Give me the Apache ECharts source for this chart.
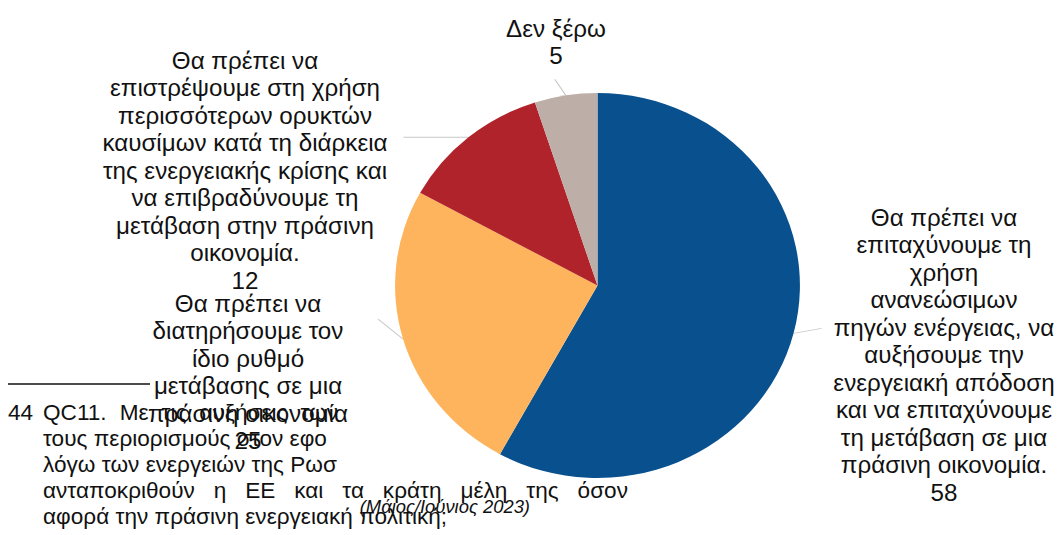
<!DOCTYPE html>
<html>
<head>
<meta charset="utf-8">
<script src="https://cdn.jsdelivr.net/npm/echarts@6/dist/echarts.min.js"></script>
<style>
  html, body { margin: 0; background: #fff; overflow: hidden; }
  /* the source figure is slightly stretched horizontally */
  #chart { width: 1008px; height: 535px; transform: scaleX(1.0516); transform-origin: 0 0; }
</style>
</head>
<body>
<div id="chart"></div>
<script>
const SX = 1.0516

const categories = [
  'Θα πρέπει να\nεπιταχύνουμε τη\nχρήση\nανανεώσιμων\nπηγών ενέργειας, να\nαυξήσουμε την\nενεργειακή απόδοση\nκαι να επιταχύνουμε\nτη μετάβαση σε μια\nπράσινη οικονομία.',
  'Θα πρέπει να\nδιατηρήσουμε τον\nίδιο ρυθμό\nμετάβασης σε μια\nπράσινη οικονομία',
  'Θα πρέπει να\nεπιστρέψουμε στη χρήση\nπερισσότερων ορυκτών\nκαυσίμων κατά τη διάρκεια\nτης ενεργειακής κρίσης και\nνα επιβραδύνουμε τη\nμετάβαση στην πράσινη\nοικονομία.',
  'Δεν ξέρω',
]
const values = [58, 25, 12, 5]
const colors = ['#09508e', '#fdb45d', '#b1232a', '#bdaea7']

const footnoteNumber = '44'
const footnoteLines = [
  'QC11. Με τις αυξήσεις των',
  'τους περιορισμούς στον εφο',
  'λόγω των ενεργειών της Ρωσ',
  'ανταποκριθούν η ΕΕ και τα κράτη μέλη της όσον',
  'αφορά την πράσινη ενεργειακή πολιτική;',
]
const sourceNote = '(Μάιος/Ιούνιος 2023)'

// label anchors in page pixels: [centre x, top y]
const labelPos = [[944, 204], [248, 290], [245, 47], [556, 15]]
// end of each leader line, relative to its start on the pie edge (page pixels)
const leaderEnd = [[28, -5], [-25, -20], [-65, 0], [-11, -16]]
// right edge of each footnote line when justified, null = ragged
const lineRight = [338, 318, 322, 628, null]

const FONT = 'Liberation Sans'
const NOTE_SIZE = 21.5
const measureCtx = document.createElement('canvas').getContext('2d')
measureCtx.font = NOTE_SIZE + 'px "' + FONT + '"'

function footnoteGraphics() {
  const els = []
  const textStyle = { fontFamily: FONT, fontSize: NOTE_SIZE, fill: '#111', verticalAlign: 'middle' }
  els.push({
    type: 'line',
    shape: { x1: 8 / SX, y1: 384, x2: 150 / SX, y2: 384 },
    style: { stroke: '#111', lineWidth: 1.5 },
  })
  els.push({ type: 'text', x: 8 / SX, y: 413, style: { ...textStyle, text: footnoteNumber } })
  const space = measureCtx.measureText(' ').width
  footnoteLines.forEach((line, i) => {
    const y = 413 + i * 26
    const x0 = 43 / SX
    const words = line.split(' ')
    let gap = space
    if (lineRight[i] != null) {
      const total = words.reduce((s, w) => s + measureCtx.measureText(w).width, 0)
      gap = Math.max(space, (lineRight[i] / SX - x0 - total) / (words.length - 1))
    }
    let x = x0
    words.forEach((w) => {
      els.push({ type: 'text', x: x, y: y, style: { ...textStyle, text: w } })
      x += measureCtx.measureText(w).width + gap
    })
  })
  els.push({
    type: 'text',
    x: 530 / SX,
    y: 507,
    style: {
      text: sourceNote,
      fontFamily: FONT,
      fontSize: 17.5,
      fontStyle: 'italic',
      fill: '#111',
      align: 'right',
      verticalAlign: 'middle',
    },
  })
  return els
}

const chart = echarts.init(document.getElementById('chart'), null, { renderer: 'svg' })

chart.setOption({
  animation: false,
  backgroundColor: '#fff',
  graphic: footnoteGraphics(),
  series: [
    {
      type: 'pie',
      center: [597.5 / SX, 285.5],
      radius: 192.5,
      startAngle: 90,
      clockwise: true,
      silent: true,
      data: values.map((v, i) => ({ name: categories[i], value: v, itemStyle: { color: colors[i] } })),
      label: {
        show: true,
        formatter: '{b}\n{c}',
        fontFamily: FONT,
        fontSize: 23,
        lineHeight: 27.5,
        color: '#111',
        overflow: 'none',
      },
      labelLine: {
        show: true,
        lineStyle: { color: '#c8c8c8', width: 1 },
      },
      labelLayout: (params) => {
        const i = params.dataIndex
        const p = labelPos[i]
        const out = { x: p[0] / SX, y: p[1], align: 'center', verticalAlign: 'top' }
        const pts = params.labelLinePoints
        if (pts && pts[0]) {
          const s = pts[0]
          out.labelLinePoints = [s, [s[0] + leaderEnd[i][0] / SX, s[1] + leaderEnd[i][1]]]
        }
        return out
      },
    },
  ],
})
</script>
</body>
</html>
